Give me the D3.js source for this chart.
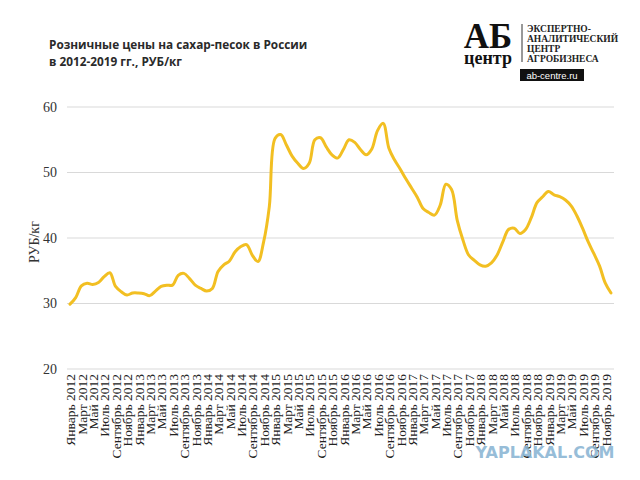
<!DOCTYPE html>
<html><head><meta charset="utf-8">
<script src="https://cdn.jsdelivr.net/npm/d3@7"></script>
<style>body{margin:0;background:#fff}</style>
</head><body>
<svg id="c" width="640" height="480"></svg>
<script>
const monthNames = ["Январь","Февраль","Март","Апрель","Май","Июнь","Июль","Август","Сентябрь","Октябрь","Ноябрь","Декабрь"];
const years = [2012,2013,2014,2015,2016,2017,2018,2019];
const categories = years.flatMap(y => monthNames.map(m => m + " " + y));
const prices = [
  29.9, 30.9, 32.7, 33.1, 32.9, 33.2, 34.1, 34.7, 32.6, 31.8, 31.3, 31.6,
  31.6, 31.5, 31.2, 31.9, 32.6, 32.8, 32.8, 34.3, 34.6, 33.8, 32.8, 32.3,
  31.9, 32.3, 34.9, 35.9, 36.5, 37.9, 38.7, 39.0, 37.4, 36.4, 39.4, 44.8,
  55.2, 55.8, 54.2, 52.5, 51.4, 50.6, 51.4, 55.0, 55.3, 53.9, 52.7, 52.2,
  53.5, 55.0, 54.6, 53.5, 52.7, 53.6, 56.4, 57.5, 53.7, 51.9, 50.5, 49.0,
  47.6, 46.2, 44.5, 43.9, 43.5, 45.0, 48.2, 47.4, 42.7, 39.7, 37.4, 36.6,
  35.9, 35.7, 36.2, 37.4, 39.4, 41.3, 41.5, 40.7, 41.3, 43.1, 45.4, 46.3,
  47.1, 46.6, 46.3, 45.8, 44.9, 43.4, 41.5, 39.4, 37.6, 35.7, 33.1, 31.6
];
const yTicks = [20, 30, 40, 50, 60];
const titleLines = ["Розничные цены на сахар-песок в России", "в 2012-2019 гг., РУБ/кг"];
const yTitle = "РУБ/кг";
const logoLines = ["ЭКСПЕРТНО-", "АНАЛИТИЧЕСКИЙ", "ЦЕНТР", "АГРОБИЗНЕСА"];

const svg = d3.select("#c");
const x = d3.scalePoint().domain(categories).range([70, 611]);
const y = d3.scaleLinear().domain([20, 60]).range([369, 107]);

// gridlines
svg.append("g").selectAll("line").data(yTicks).join("line")
  .attr("x1", 67).attr("x2", 614)
  .attr("y1", d => y(d)).attr("y2", d => y(d))
  .attr("stroke", "#d9d9d9").attr("stroke-width", 1);

// y axis
const ya = svg.append("g").attr("transform", "translate(60,0)")
  .call(d3.axisLeft(y).tickValues(yTicks).tickSize(0).tickPadding(3));
ya.select(".domain").remove();
ya.selectAll("text").attr("font-family", "Liberation Serif").attr("font-size", 14).attr("fill", "#333");

// x axis
const xa = svg.append("g").attr("transform", "translate(0,369)")
  .call(d3.axisBottom(x).tickValues(categories.filter((d, i) => i % 2 === 0)).tickSize(0));
xa.select(".domain").remove();
xa.selectAll("text")
  .attr("font-family", "Liberation Serif").attr("font-size", 13.5).attr("fill", "#222")
  .attr("text-anchor", "end").attr("dy", "0.35em")
  .attr("transform", "translate(0,5) rotate(-90)").attr("x", 0).attr("y", 0);

// y title
svg.append("text").attr("transform", "translate(39,242) rotate(-90)")
  .attr("text-anchor", "middle").attr("font-family", "Liberation Serif")
  .attr("font-size", 14).attr("fill", "#333").text(yTitle);

// line
const line = d3.line().x((d, i) => x(categories[i])).y(d => y(d)).curve(d3.curveCatmullRom.alpha(0.5));
svg.append("path").datum(prices).attr("d", line)
  .attr("fill", "none").attr("stroke", "#F2BF22").attr("stroke-width", 3)
  .attr("stroke-linejoin", "round").attr("stroke-linecap", "round");

// title
svg.append("g").selectAll("text").data(titleLines).join("text")
  .attr("x", 49).attr("y", (d, i) => 48.5 + i * 17.5)
  .attr("font-family", "Open Sans").attr("font-weight", "bold").attr("font-size", 11.8)
  .attr("fill", "#2a2a2a").text(d => d);

// logo
const logo = svg.append("g");
logo.append("text").attr("x", 488).attr("y", 48).attr("text-anchor", "middle")
  .attr("font-family", "Liberation Serif").attr("font-weight", "bold").attr("font-size", 35)
  .attr("fill", "#111").text("АБ");
logo.append("text").attr("x", 488).attr("y", 64).attr("text-anchor", "middle")
  .attr("font-family", "Liberation Serif").attr("font-weight", "bold").attr("font-size", 18)
  .attr("fill", "#111").text("центр");
logo.append("line").attr("x1", 522).attr("x2", 522).attr("y1", 24).attr("y2", 62)
  .attr("stroke", "#333").attr("stroke-width", 1);
logo.append("g").selectAll("text").data(logoLines).join("text")
  .attr("x", 527).attr("y", (d, i) => 32 + i * 10)
  .attr("font-family", "Liberation Serif").attr("font-weight", "bold").attr("font-size", 9.5)
  .attr("fill", "#222").text(d => d);
logo.append("rect").attr("x", 520).attr("y", 69).attr("width", 64).attr("height", 12).attr("fill", "#111");
logo.append("text").attr("x", 552).attr("y", 78.5).attr("text-anchor", "middle")
  .attr("font-family", "Liberation Sans Narrow, Liberation Sans").attr("font-size", 9.5)
  .attr("fill", "#fff").text("ab-centre.ru");

// watermark
svg.append("text").attr("x", 545).attr("y", 458).attr("text-anchor", "middle")
  .attr("font-family", "DejaVu Sans").attr("font-weight", "bold").attr("font-size", 16)
  .attr("fill", "#86b2d2").attr("opacity", 0.85).text("YAPLAKAL.COM");
</script>
</body></html>
